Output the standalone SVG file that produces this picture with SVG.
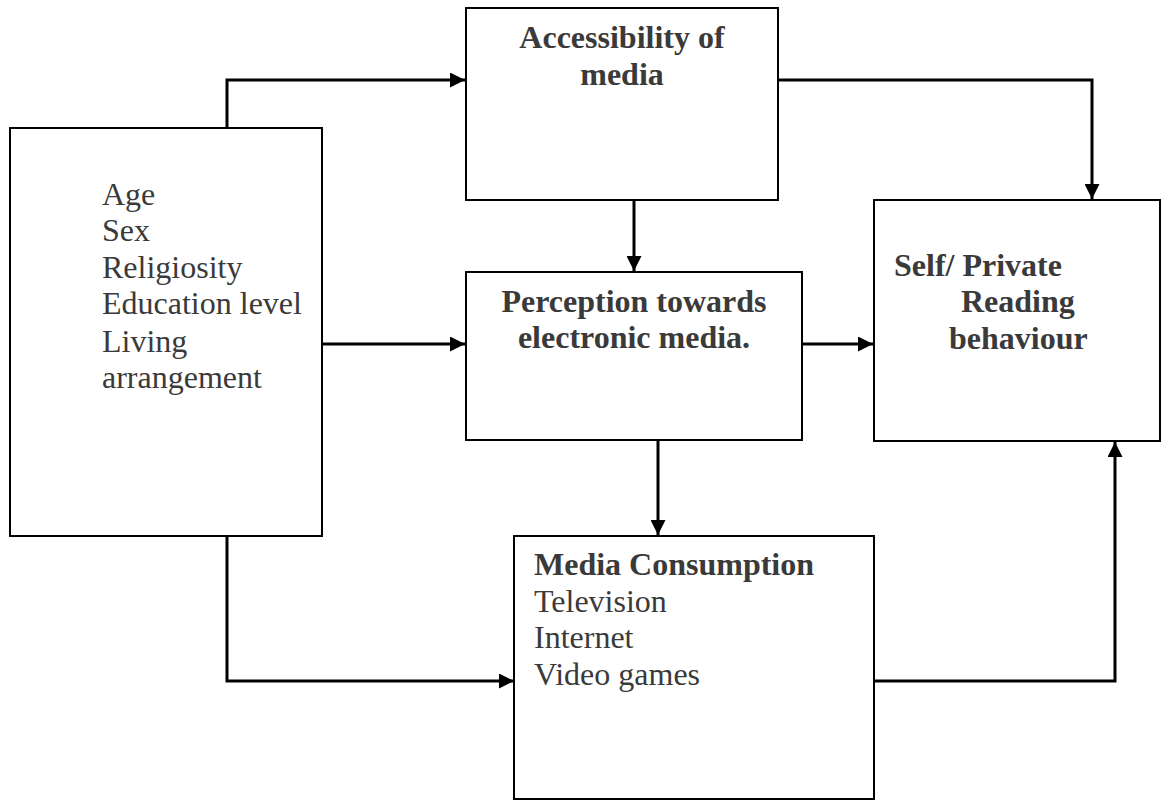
<svg xmlns="http://www.w3.org/2000/svg" width="1163" height="800" viewBox="0 0 1163 800">
<style>
.box{fill:#fff;stroke:#000;stroke-width:2}
.c{fill:none;stroke:#000;stroke-width:3}
text{font-family:"Liberation Serif","Times New Roman",serif;font-size:32px;fill:#3a3a3a}
.b{font-weight:bold}
</style>
<defs>
<marker id="ah" viewBox="0 0 10 10" refX="10" refY="5" markerWidth="15" markerHeight="15" markerUnits="userSpaceOnUse" orient="auto">
<path d="M0,0 L10,5 L0,10 Z" fill="#000"/>
</marker>
</defs>
<rect width="1163" height="800" fill="#fff"/>
<g id="connectors">
<path class="c" d="M227,128 V80 H465" marker-end="url(#ah)"/>
<path class="c" d="M778,80 H1092 V199" marker-end="url(#ah)"/>
<path class="c" d="M634,200 V271" marker-end="url(#ah)"/>
<path class="c" d="M322,344 H465" marker-end="url(#ah)"/>
<path class="c" d="M802,344 H873" marker-end="url(#ah)"/>
<path class="c" d="M658,440 V535" marker-end="url(#ah)"/>
<path class="c" d="M227,536 V681 H514" marker-end="url(#ah)"/>
<path class="c" d="M874,681 H1115 V442" marker-end="url(#ah)"/>
</g>
<g id="demographics">
<rect class="box" x="10" y="128" width="312" height="408"/>
<text x="102" y="205">Age</text>
<text x="102" y="241">Sex</text>
<text x="102" y="278">Religiosity</text>
<text x="102" y="314">Education level</text>
<text x="102" y="352">Living</text>
<text x="102" y="388">arrangement</text>
</g>
<g id="accessibility">
<rect class="box" x="466" y="8" width="312" height="192"/>
<text class="b" x="622" y="48" text-anchor="middle">Accessibility of</text>
<text class="b" x="622" y="85" text-anchor="middle">media</text>
</g>
<g id="perception">
<rect class="box" x="466" y="272" width="336" height="168"/>
<text class="b" x="634" y="312" text-anchor="middle">Perception towards</text>
<text class="b" x="634" y="348" text-anchor="middle">electronic media.</text>
</g>
<g id="reading">
<rect class="box" x="874" y="200" width="286" height="241"/>
<text class="b" x="894" y="276">Self/ Private</text>
<text class="b" x="961" y="312">Reading</text>
<text class="b" x="949" y="349">behaviour</text>
</g>
<g id="consumption">
<rect class="box" x="514" y="536" width="360" height="263"/>
<text class="b" x="534" y="575">Media Consumption</text>
<text x="534" y="612">Television</text>
<text x="534" y="648">Internet</text>
<text x="534" y="685">Video games</text>
</g>
</svg>
